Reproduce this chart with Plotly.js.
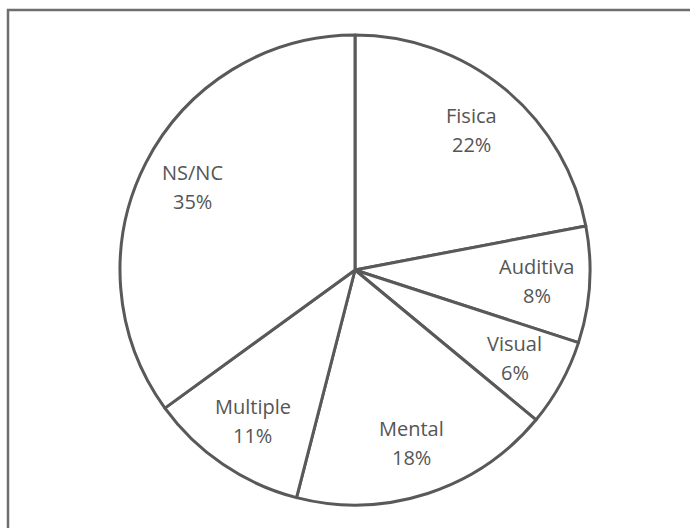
<!DOCTYPE html>
<html>
<head>
<meta charset="utf-8">
<script src="https://cdn.plot.ly/plotly-3.0.1.min.js"></script>
<style>html,body{margin:0;padding:0;background:#fff;}#chart{width:690px;height:528px;}</style>
</head>
<body>
<div id="chart"></div>
<script>
// Data
const categories = ["Fisica", "Auditiva", "Visual", "Mental", "Multiple", "NS/NC"];
const values = [22, 8, 6, 18, 11, 35];
const pctLabels = ["22%", "8%", "6%", "18%", "11%", "35%"];

// Layout geometry (pixels)
const W = 690, H = 528;
const cx = 355, cy = 270, R = 235;
const labelFrac = 0.775;
const lineGap = 14.5;

const total = values.reduce((a, b) => a + b, 0);
const annotations = [];
let cum = 0;
values.forEach((v, i) => {
  const midFrac = (cum + v / 2) / total;
  cum += v;
  const ang = (90 - midFrac * 360) * Math.PI / 180;
  const px = cx + labelFrac * R * Math.cos(ang);
  const py = cy - labelFrac * R * Math.sin(ang);
  const xp = px / W, yp = 1 - py / H;
  const font = {family: "Open Sans, DejaVu Sans, sans-serif", size: 20, color: "#555555"};
  annotations.push({xref: "paper", yref: "paper", x: xp, y: yp, text: categories[i],
    showarrow: false, xanchor: "center", yanchor: "middle", yshift: lineGap, font: font});
  annotations.push({xref: "paper", yref: "paper", x: xp, y: yp, text: pctLabels[i],
    showarrow: false, xanchor: "center", yanchor: "middle", yshift: -lineGap, font: font});
});

const trace = {
  type: "pie",
  labels: categories,
  values: values,
  sort: false,
  direction: "clockwise",
  rotation: 0,
  textinfo: "none",
  hoverinfo: "none",
  showlegend: false,
  marker: {colors: categories.map(() => "#ffffff"), line: {color: "#595959", width: 3}},
  domain: {x: [(cx - R) / W, (cx + R) / W], y: [1 - (cy + R) / H, 1 - (cy - R) / H]}
};

const layout = {
  width: W, height: H,
  margin: {l: 0, r: 0, t: 0, b: 0},
  paper_bgcolor: "#ffffff",
  plot_bgcolor: "#ffffff",
  showlegend: false,
  annotations: annotations,
  shapes: [{
    type: "rect", xref: "paper", yref: "paper",
    x0: 8 / W, x1: 1.02, y0: -0.02, y1: 1 - 10 / H,
    line: {color: "#6e6e6e", width: 2.5}, fillcolor: "rgba(0,0,0,0)", layer: "below"
  }]
};

Plotly.newPlot("chart", [trace], layout, {displayModeBar: false, staticPlot: true});
</script>
</body>
</html>
